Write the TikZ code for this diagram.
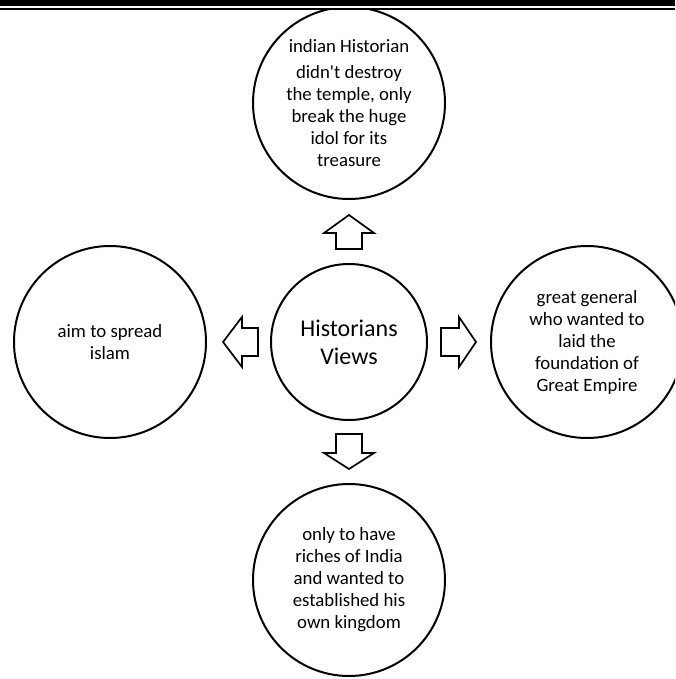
\documentclass[tikz,border=0pt]{standalone}
\usepackage{fontspec}
\setmainfont{Carlito}[Ligatures=TeXOff]
\begin{document}
\begin{tikzpicture}[x=1pt,y=-1pt,
  bubble/.style={circle, draw, line width=2pt, minimum size=192pt, inner sep=0pt, align=center,
    font=\fontsize{18.8}{22}\selectfont},
  hub/.style={circle, draw, line width=2pt, minimum size=156pt, inner sep=0pt, align=center,
    font=\fontsize{24}{28}\selectfont},
  fatarrow/.style={draw, line width=1.7pt, fill=white, line join=miter}]
\useasboundingbox (0,0) rectangle (675,679);
\clip (0,0) rectangle (675,679);

\node[hub] (hub) at (349,342) {Historians\\Views};
\node[bubble] (top) at (349,103) {indian Historian\\[4pt]didn't destroy\\the temple, only\\break the huge\\idol for its\\treasure};
\node[bubble] (left) at (110,342) {aim to spread\\islam};
\node[bubble] (right) at (587,342) {great general\\who wanted to\\laid the\\foundation of\\Great Empire};
\node[bubble] (bottom) at (349,580) {only to have\\riches of India\\and wanted to\\established his\\own kingdom};

% block arrows
\draw[fatarrow] (336,249) -- (336,233) -- (324,233) -- (349,215) -- (374,233) -- (362,233) -- (362,249) -- cycle;
\draw[fatarrow] (336,434) -- (336,453) -- (324,453) -- (349,469) -- (374,453) -- (362,453) -- (362,434) -- cycle;
\draw[fatarrow] (258,328) -- (242,328) -- (242,317) -- (223,342) -- (242,367) -- (242,356) -- (258,356) -- cycle;
\draw[fatarrow] (441,328) -- (459,328) -- (459,317) -- (476,342) -- (459,367) -- (459,356) -- (441,356) -- cycle;

% top double rule
\fill[white] (0,0) rectangle (675,10.5);
\fill[black] (0,0) rectangle (675,6);
\draw[line width=1.7pt] (0,9.2) -- (675,9.2);
\end{tikzpicture}
\end{document}
